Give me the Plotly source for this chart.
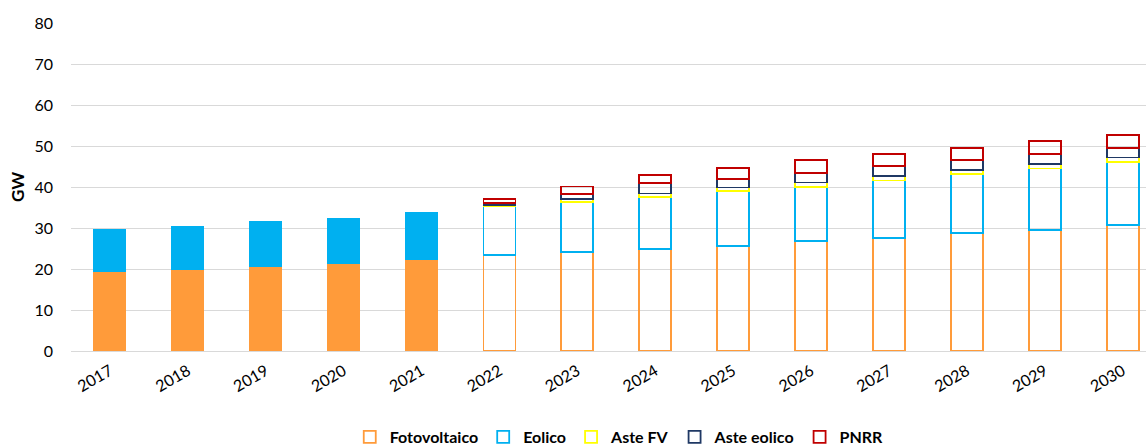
import plotly.graph_objects as go

years = ["2017", "2018", "2019", "2020", "2021", "2022", "2023", "2024",
         "2025", "2026", "2027", "2028", "2029", "2030"]
fotovoltaico = [19.5, 19.9, 20.5, 21.4, 22.2, 23.4, 24.2, 24.9, 25.7, 26.9, 27.6, 28.7, 29.6, 30.7]
eolico = [10.1, 10.5, 11.1, 10.9, 11.7, 11.9, 12.2, 12.7, 13.3, 13.1, 14.0, 14.4, 14.9, 15.4]
aste_fv = [None, None, None, None, None, 0.35, 0.6, 0.8, 0.9, 1.1, 1.0, 1.0, 1.1, 1.1]
aste_eolico = [None, None, None, None, None, 0.4, 1.2, 2.5, 2.0, 2.4, 2.6, 2.4, 2.5, 2.4]
pnrr = [None, None, None, None, None, 1.0, 1.9, 2.0, 2.8, 3.1, 2.9, 3.1, 3.1, 3.1]
n_hist = 5  # historical (filled) years

FONT = "Lato"
series = [
    ("Fotovoltaico", fotovoltaico, "#FF9B3A"),
    ("Eolico", eolico, "#00B0F0"),
    ("Aste FV", aste_fv, "#FFFF00"),
    ("Aste eolico", aste_eolico, "#1F3864"),
    ("PNRR", pnrr, "#C00000"),
]

fig = go.Figure()
# historical filled bars
for name, vals, col in series[:2]:
    fig.add_trace(go.Bar(
        x=years[:n_hist], y=vals[:n_hist], name=name, legendgroup=name,
        showlegend=False,
        marker=dict(color=col, line=dict(color=col, width=1)),
    ))
# projected hollow bars
for name, vals, col in series:
    fig.add_trace(go.Bar(
        x=years[n_hist:], y=vals[n_hist:], name=name, legendgroup=name,
        marker=dict(color="rgba(255,255,255,0)", line=dict(color=col, width=1.8)),
    ))

fig.update_layout(
    barmode="stack",
    bargap=0.59,
    width=1146, height=448,
    margin=dict(l=71, r=0, t=23, b=97, autoexpand=False),
    paper_bgcolor="white", plot_bgcolor="white",
    font=dict(family=FONT, size=16, color="#000000"),
    showlegend=True,
    legend=dict(
        orientation="h", x=0.51, xanchor="center", y=-0.21, yanchor="top",
        font=dict(family=FONT, size=16, color="#000000", weight="bold"),
        traceorder="normal", itemwidth=30,
    ),
    xaxis=dict(
        type="category", categoryorder="array", categoryarray=years,
        range=[-0.5, 13.3], tickangle=-30, showgrid=False, showline=False,
        ticks="", automargin=False, ticklabelstandoff=7,
        tickfont=dict(family=FONT, size=16, color="#000000"),
    ),
    yaxis=dict(
        range=[0, 80], dtick=10, showgrid=True, gridcolor="#D9D9D9", gridwidth=1,
        zeroline=True, zerolinecolor="#D9D9D9", zerolinewidth=1, showline=False,
        ticks="", ticklabelstandoff=17, automargin=False,
        tickfont=dict(family=FONT, size=16, color="#000000"),
        title=dict(text="GW", standoff=5,
                   font=dict(family=FONT, size=17, color="#000000", weight="bold")),
    ),
)

fig.write_html("out.html")
